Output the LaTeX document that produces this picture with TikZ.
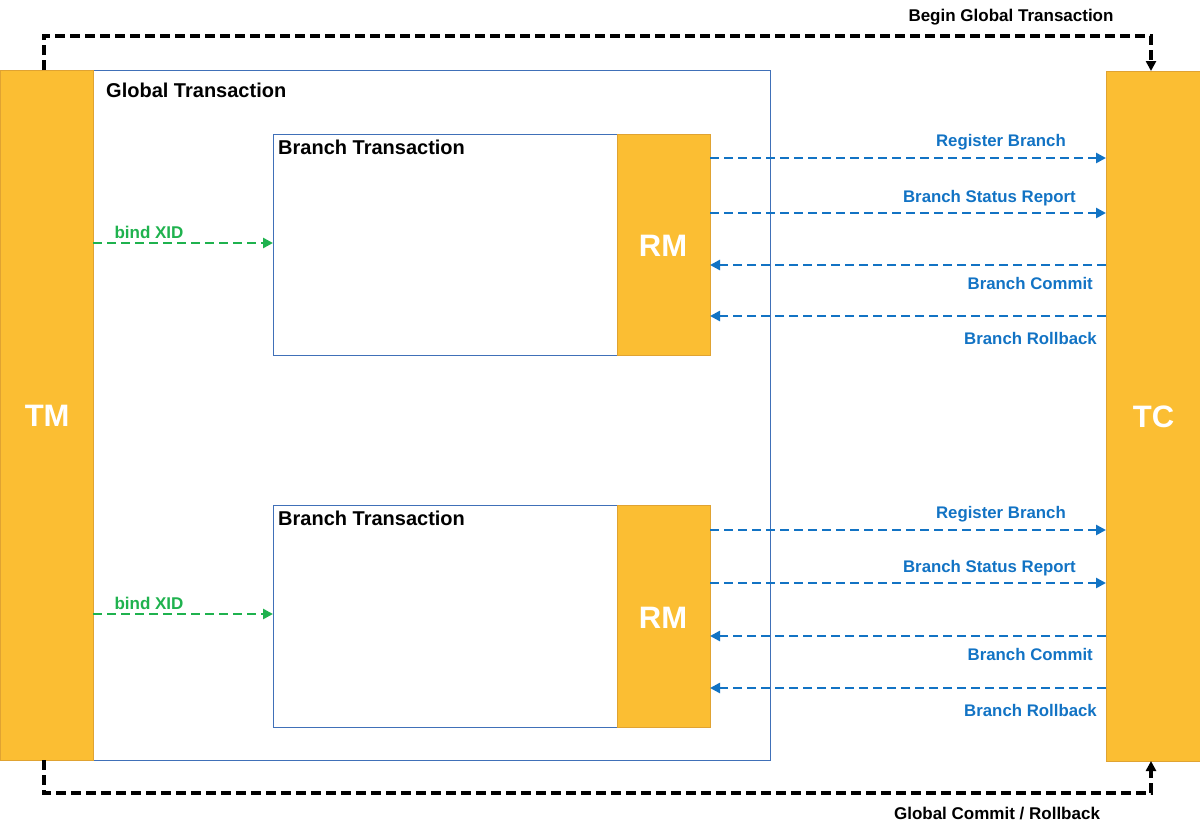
\documentclass[tikz,border=0pt]{standalone}
\usepackage{fontspec}
\setmainfont{Liberation Sans}
\usetikzlibrary{arrows.meta,calc}
\definecolor{orng}{HTML}{FBBE33}
\definecolor{orngd}{HTML}{E0A332}
\definecolor{bbox}{HTML}{4070B8}
\definecolor{barrow}{HTML}{1273C4}
\definecolor{garrow}{HTML}{1FB24E}
\tikzset{
  x=1pt,y=-1pt,
  orangebox/.style={draw=orngd,line width=1.3pt,fill=orng,inner sep=0pt},
  plainbox/.style={draw=bbox,line width=1.2pt,fill=white,inner sep=0pt},
  bigtxt/.style={text=white,font=\bfseries\fontsize{31}{33}\selectfont},
  bluearrow/.style={draw=barrow,line width=2.8pt,dash pattern=on 9pt off 5pt,-{Triangle[length=10pt,width=10pt]}},
  greenarrow/.style={draw=garrow,line width=2.8pt,dash pattern=on 9pt off 5pt,-{Triangle[length=10pt,width=10pt]}},
  blackarrow/.style={draw=black,line width=3.3pt,dash pattern=on 10pt off 5pt,-{Triangle[length=10pt,width=10pt]}},
  bluelbl/.style={text=barrow,font=\bfseries\fontsize{16.8}{18}\selectfont,inner sep=0pt},
  greenlbl/.style={text=garrow,font=\bfseries\fontsize{17}{19}\selectfont,inner sep=0pt},
  blacklbl/.style={text=black,font=\bfseries\fontsize{17}{19}\selectfont,inner sep=0pt},
  titlelbl/.style={text=black,font=\bfseries\fontsize{20}{22}\selectfont,inner sep=0pt}
}
\begin{document}
\begin{tikzpicture}
\useasboundingbox (0,0) rectangle (1200,835);
% global transaction box
\node[plainbox,minimum width=677pt,minimum height=690pt,anchor=north west] (GT) at (93,70) {};
\node[titlelbl,anchor=west] (GTl) at (106,90) {Global Transaction};
% TM and TC
\node[orangebox,minimum width=93pt,minimum height=690pt,anchor=north west] (TM) at (0,70) {};
\node[bigtxt] at (TM.center) {TM};
\node[orangebox,minimum width=94pt,minimum height=690pt,anchor=north west] (TC) at (1106,71) {};
\node[bigtxt] at (TC.center) {TC};
% branch 1
\node[plainbox,minimum width=344pt,minimum height=221pt,anchor=north west] (BT1) at (273,134) {};
\node[titlelbl,anchor=west] (BT1l) at (278,147) {Branch Transaction};
\node[orangebox,minimum width=93pt,minimum height=221pt,anchor=north west] (RM1) at (617,134) {};
\node[bigtxt] at (663,246) {RM};
% branch 2
\node[plainbox,minimum width=344pt,minimum height=222pt,anchor=north west] (BT2) at (273,505) {};
\node[titlelbl,anchor=west] (BT2l) at (278,518) {Branch Transaction};
\node[orangebox,minimum width=93pt,minimum height=222pt,anchor=north west] (RM2) at (617,505) {};
\node[bigtxt] at (663,618) {RM};
% top / bottom global arrows
\coordinate (tmTop) at (44,70);
\coordinate (tmBot) at (44,760);
\coordinate (tcTop) at (1151,71);
\coordinate (tcBot) at (1151,761);
\draw[blackarrow] (tmTop) -- (44,36) -- (1151,36) -- (tcTop);
\draw[blackarrow] (tmBot) -- (44,793) -- (1151,793) -- (tcBot);
\node[blacklbl] (bgt) at (1011,17) {Begin Global Transaction};
\node[blacklbl] (gcr) at (997,814) {Global Commit / Rollback};
% bind XID
\foreach \b/\y in {1/243,2/614}{
  \coordinate (bx\b) at (93,\y);
  \draw[greenarrow] (bx\b) -- (bx\b -| BT\b.west);
  \node[greenlbl] at (149,\y-11) {bind XID};
}
% blue arrows
\foreach \b/\ya/\yb/\yc/\yd in {1/158/213/265/316, 2/530/583/636/688}{
  \coordinate (ra\b) at (710,\ya);
  \coordinate (rb\b) at (710,\yb);
  \coordinate (rc\b) at (710,\yc);
  \coordinate (rd\b) at (710,\yd);
  \draw[bluearrow] (ra\b) -- (ra\b -| TC.west);
  \draw[bluearrow] (rb\b) -- (rb\b -| TC.west);
  \draw[bluearrow] (rc\b -| TC.west) -- (rc\b);
  \draw[bluearrow] (rd\b -| TC.west) -- (rd\b);
  \node[bluelbl,anchor=east] at (1066,\ya-16) {Register Branch};
  \node[bluelbl,anchor=east] at (1076,\yb-15) {Branch Status Report};
  \node[bluelbl,anchor=east] at (1093,\yc+18) {Branch Commit};
  \node[bluelbl,anchor=east] at (1097,\yd+22) {Branch Rollback};
}
\end{tikzpicture}
\end{document}
